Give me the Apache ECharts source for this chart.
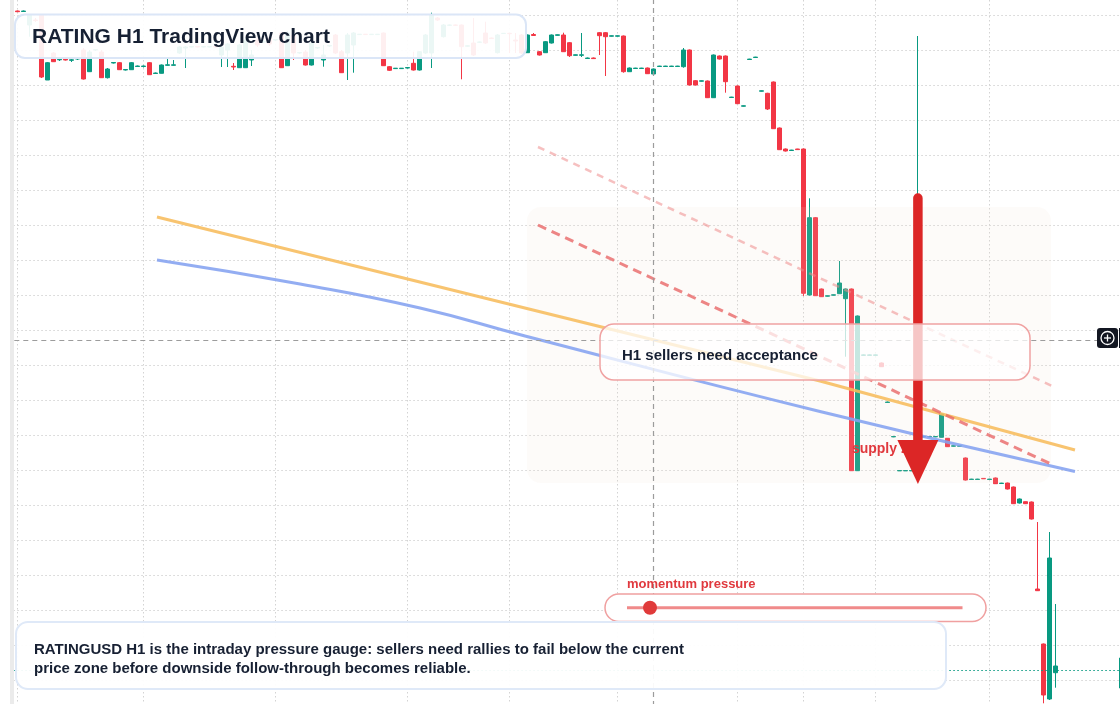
<!DOCTYPE html>
<html>
<head>
<meta charset="utf-8">
<title>RATING H1 TradingView chart</title>
<script src="https://cdn.jsdelivr.net/npm/echarts@6.0.0/dist/echarts.min.js"></script>
<style>
html,body{margin:0;padding:0;background:#fff;}
#main{width:1120px;height:704px;}
</style>
</head>
<body>
<div id="main"></div>
<script>
// H1 bars, [open, close, low, high]
// bar index 2..132: the range at the top
var rangeStart = 2;
var rangeBars = [
  [1.019,1.0183,1.018,1.0195],[1.0185,1.019,1.018,1.0195],[1.005,1.015,0.9933,1.016],[1.010,1.0095,1.008,1.012],
  [1.015,0.953,0.952,1.016],[0.950,0.9673,0.950,0.968],[0.977,0.9683,0.968,0.978],[0.9702,0.9707,0.969,0.972],
  [0.9707,0.970,0.9695,0.971],[0.9697,0.9702,0.968,0.972],[0.971,0.9714,0.970,0.973],[0.980,0.951,0.9505,0.982],
  [0.9583,0.978,0.958,0.980],[0.980,0.9804,0.979,0.981],[0.978,0.9523,0.952,0.980],[0.9523,0.961,0.9515,0.962],
  [0.967,0.9675,0.9665,0.968],[0.9673,0.9603,0.960,0.968],[0.960,0.9605,0.9595,0.961],[0.9603,0.9673,0.960,0.968],
  [0.9635,0.964,0.963,0.9645],[0.9635,0.964,0.9625,0.9645],[0.9673,0.9553,0.955,0.968],[0.9565,0.957,0.956,0.9575],
  [0.9567,0.965,0.9565,0.9655],[0.9647,0.9652,0.9645,0.972],[0.9647,0.9652,0.9645,0.970],[0.977,0.983,0.976,0.984],
  [0.982,0.983,0.962,0.984],[0.983,0.9835,0.9825,0.984],[0.9835,0.983,0.9825,0.984],[0.983,0.9835,0.9825,0.984],
  [0.983,0.9835,0.9825,0.984],[0.9835,0.983,0.9825,0.984],[0.975,0.983,0.963,0.984],[0.980,0.986,0.963,0.987],
  [0.9637,0.963,0.960,0.967],[0.9623,0.985,0.962,0.986],[0.9623,0.990,0.962,0.992],[0.970,0.975,0.964,0.980],
  [0.990,0.985,0.983,0.992],[0.988,0.9885,0.987,0.990],[0.992,0.986,0.984,0.994],[0.990,0.9905,0.989,0.991],
  [0.997,0.9623,0.962,0.998],[0.9643,0.997,0.964,0.999],[0.995,0.977,0.970,0.996],[0.977,0.9775,0.976,0.978],
  [0.978,0.965,0.9645,0.980],[0.965,0.987,0.9645,0.988],[0.982,0.9825,0.981,0.983],[0.970,0.975,0.9633,0.985],
  [0.984,0.9845,0.983,0.985],[0.995,0.977,0.976,0.996],[0.9783,0.9573,0.957,0.980],[0.977,0.995,0.950,0.997],
  [0.985,0.997,0.9573,0.998],[0.9954,0.9958,0.995,0.996],[0.9958,0.9954,0.995,0.996],[0.9954,0.9958,0.995,0.996],
  [0.9954,0.9958,0.995,0.996],[0.997,0.9643,0.964,0.9975],[0.9633,0.9597,0.959,0.964],[0.9614,0.9618,0.961,0.962],
  [0.9614,0.9618,0.961,0.962],[0.962,0.9624,0.9615,0.963],[0.9667,0.960,0.9595,0.9783],[0.960,0.9783,0.9595,0.979],
  [0.977,0.995,0.976,0.996],[0.977,1.015,0.962,1.0173],[1.012,1.010,1.009,1.013],[0.9933,1.005,0.9925,1.006],
  [1.0047,1.005,1.004,1.0055],[1.005,1.0047,1.004,1.0055],[1.005,0.9833,0.9507,1.0055],[0.9837,0.9843,0.983,0.985],
  [0.987,0.975,0.974,1.012],[0.9877,0.988,0.987,0.9885],[0.997,0.987,0.986,1.0083],[0.992,0.9915,0.991,0.9925],
  [0.9773,0.995,0.9765,0.996],[0.9965,0.9967,0.996,0.997],[0.9967,0.9963,0.977,0.997],[0.990,0.989,0.977,0.997],
  [0.995,0.977,0.976,0.996],[0.9773,0.995,0.977,0.9955],[0.9955,0.9945,0.994,0.997],[0.9783,0.975,0.9745,0.979],
  [0.9773,0.9883,0.977,0.989],[0.987,0.995,0.9865,0.9955],[0.9947,0.9952,0.9945,0.9955],[0.995,0.9783,0.978,0.9973],
  [0.9873,0.9743,0.973,0.988],[0.9747,0.9752,0.9745,0.9755],[0.9747,0.9752,0.973,0.997],[0.9715,0.972,0.971,0.9725],
  [0.972,0.9714,0.971,0.9725],[0.9973,0.9943,0.975,0.998],[0.9973,0.9933,0.954,0.998],[0.9938,0.9942,0.9935,0.9945],
  [0.9938,0.9942,0.9935,0.9945],[0.994,0.9583,0.9573,0.9945],[0.9583,0.962,0.958,0.9625],[0.9615,0.9619,0.961,0.9622],
  [0.9615,0.9619,0.961,0.9622],[0.962,0.9563,0.956,0.9625],[0.956,0.961,0.955,0.9615],[0.9635,0.9639,0.9632,0.9642],
  [0.9635,0.9639,0.9632,0.9642],[0.9635,0.9639,0.9632,0.9642],[0.9635,0.9639,0.9632,0.9642],[0.9633,0.980,0.9623,0.982],
  [0.980,0.945,0.9445,0.9805],[0.9493,0.945,0.9445,0.950],[0.9488,0.9492,0.9485,0.9495],[0.949,0.9323,0.932,0.9495],
  [0.9323,0.975,0.932,0.9755],[0.974,0.971,0.9705,0.9745],[0.974,0.9483,0.9373,0.9745],[0.9325,0.9329,0.9322,0.9332],
  [0.944,0.9263,0.926,0.9445],[0.9238,0.9242,0.9235,0.9245],[0.9705,0.9709,0.9702,0.9712],[0.9725,0.9729,0.9722,0.9732],
  [0.9388,0.9392,0.9385,0.9395],[0.9367,0.921,0.920,0.9372],[0.948,0.9013,0.901,0.9485],[0.902,0.8803,0.880,0.9025],
  [0.881,0.879,0.8785,0.8815],[0.8795,0.8799,0.8792,0.8802],[0.881,0.8804,0.880,0.8812]
];
// bar index 133..175: the breakdown
var dropStart = 133;
var dropBars = [
  [0.881,0.7367,0.734,0.8815],[0.735,0.8123,0.7345,0.8317],[0.8123,0.7343,0.734,0.813],[0.741,0.7333,0.733,0.7415],
  [0.7338,0.7342,0.7335,0.7345],[0.7348,0.7352,0.7345,0.7355],[0.7363,0.747,0.736,0.769],[0.7313,0.741,0.6733,0.7415],
  [0.741,0.5593,0.559,0.7415],[0.5593,0.714,0.559,0.7145],[0.6747,0.6751,0.6745,0.6755],[0.6747,0.6751,0.6745,0.6755],
  [0.6747,0.6751,0.6745,0.6755],[0.667,0.6633,0.663,0.6675],[0.6275,0.628,0.6272,0.6285],[0.5931,0.5935,0.5928,0.594],
  [0.5591,0.5595,0.559,0.560],[0.5591,0.5595,0.559,0.560],[0.5591,0.5595,0.559,0.560],[0.560,0.593,0.559,0.994],
  [0.5931,0.5935,0.5928,0.594],[0.5931,0.5935,0.5928,0.594],[0.5931,0.5935,0.5928,0.594],[0.5927,0.616,0.5925,0.6165],
  [0.5917,0.5833,0.583,0.592],[0.5838,0.5842,0.5835,0.5845],[0.5838,0.5842,0.5835,0.5845],[0.572,0.550,0.5495,0.5725],
  [0.5505,0.5509,0.5502,0.5512],[0.5505,0.5509,0.5502,0.5512],[0.5516,0.5512,0.551,0.5519],[0.5505,0.5509,0.5502,0.5512],
  [0.552,0.5463,0.546,0.5525],[0.5465,0.5469,0.5462,0.5472],[0.547,0.541,0.5405,0.5475],[0.543,0.5263,0.526,0.5435],
  [0.527,0.531,0.5265,0.5315],[0.5283,0.5263,0.526,0.5285],[0.528,0.511,0.5105,0.5285],[0.441,0.4393,0.439,0.508],
  [0.386,0.335,0.3267,0.3865],[0.331,0.472,0.330,0.498],[0.3573,0.364,0.3423,0.426]
];
// the bar cut off at the right edge
var edgeIndex = 186;
var edgeBar = [0.342,0.372,0.340,0.375];

var timeGridBars = [2, 23, 45, 67, 84, 102, 122, 133, 145, 164];
var crosshairBar = 108;
var crosshairPrice = 0.692;
var lastPrice = 0.3633;

// drawn lines, [bar, price]
var orangeLine = [[25.28, 0.813], [135.78, 0.649], [178.28, 0.580]];
var blueLine = [[25.28, 0.770], [49.12, 0.746], [69.12, 0.722], [86.62, 0.694], [135.78, 0.6185], [178.28, 0.5585]];
var upperTrend = [[88.78, 0.883], [174.45, 0.644]];
var lowerTrend = [[88.78, 0.805], [174.62, 0.565]];
var zoneBars = [86.95, 174.28];
var zonePrices = [0.823, 0.547];
var arrowBar = 152.1;
var arrowPrices = [0.8367, 0.590, 0.546];
var supplyLabel = [141.1, 0.582];

var barTimes = [];
var t0 = Date.UTC(2025, 5, 2, 0);
for (var i = 0; i <= edgeIndex; i++) {
    var d = new Date(t0 + i * 3600000);
    barTimes.push((d.getUTCMonth() + 1) + '/' + d.getUTCDate() + ' ' + d.getUTCHours() + ':00');
}
var bars = barTimes.map(function () { return ['-', '-', '-', '-']; });
rangeBars.forEach(function (b, k) { bars[rangeStart + k] = b; });
dropBars.forEach(function (b, k) { bars[dropStart + k] = b; });
bars[edgeIndex] = edgeBar;

var gridDots = { color: '#d3d3d3', type: [1.5, 2.5], width: 1 };
var crossStyle = { color: '#9c9c9c', type: [5, 4], width: 1.2 };
var FONT = '"Liberation Sans", Arial, sans-serif';

var myChart = echarts.init(document.getElementById('main'));
var option = {
    animation: false,
    backgroundColor: '#ffffff',
    grid: {
        left: 5.3, top: -20, width: 1116, height: 735,
        outerBoundsMode: 'none', containLabel: false
    },
    xAxis: [
        {
            type: 'category',
            data: barTimes,
            boundaryGap: false,
            axisLine: { show: false },
            axisTick: { show: false },
            axisLabel: { show: false },
            splitLine: {
                show: true,
                interval: function (idx) { return timeGridBars.indexOf(idx) >= 0; },
                lineStyle: gridDots
            }
        },
        {
            type: 'value', min: 0, max: edgeIndex, show: false,
            splitLine: { show: false }
        }
    ],
    yAxis: {
        type: 'value',
        min: 0.315, max: 1.05, interval: 0.035,
        axisLine: { show: false },
        axisTick: { show: false },
        axisLabel: { show: false },
        splitLine: { show: true, lineStyle: gridDots }
    },
    series: [
        {
            type: 'candlestick',
            data: bars,
            barWidth: 4,
            z: 2,
            silent: true,
            itemStyle: {
                color: '#089981', color0: '#f23645',
                borderColor: '#089981', borderColor0: '#f23645',
                borderWidth: 1
            },
            markLine: {
                silent: true,
                symbol: ['none', 'none'],
                label: { show: false },
                animation: false,
                data: [
                    { xAxis: barTimes[crosshairBar], lineStyle: crossStyle },
                    { yAxis: crosshairPrice, lineStyle: crossStyle },
                    { yAxis: lastPrice, lineStyle: { color: '#089981', type: [1.5, 2.5], width: 1 } }
                ]
            }
        },
        {
            type: 'line', xAxisIndex: 1, data: orangeLine, symbol: 'none', silent: true, z: 4,
            lineStyle: { color: 'rgba(247,188,92,0.88)', width: 3 }
        },
        {
            type: 'line', xAxisIndex: 1, data: blueLine, symbol: 'none', silent: true, z: 4, smooth: 0.5,
            lineStyle: { color: 'rgba(132,162,240,0.88)', width: 3 }
        },
        {
            type: 'line', xAxisIndex: 1, data: upperTrend, symbol: 'none', silent: true, z: 4,
            lineStyle: { color: 'rgba(238,140,140,0.55)', width: 2.5, type: [7, 6] }
        },
        {
            type: 'line', xAxisIndex: 1, data: lowerTrend, symbol: 'none', silent: true, z: 4,
            lineStyle: { color: 'rgba(232,104,104,0.8)', width: 3, type: [9, 6] }
        }
    ]
};
myChart.setOption(option, true);

function px(p) { return myChart.convertToPixel({ seriesIndex: 1 }, p); }
var zA = px([zoneBars[0], zonePrices[0]]);
var zB = px([zoneBars[1], zonePrices[1]]);
var aTop = px([arrowBar, arrowPrices[0]]);
var aBase = px([arrowBar, arrowPrices[1]]);
var aTip = px([arrowBar, arrowPrices[2]]);
var sLab = px(supplyLabel);

function box(x, y, w, h, r, fill, stroke, lw) {
    return { type: 'rect', z: 30, shape: { x: x, y: y, width: w, height: h, r: r },
        style: { fill: fill, stroke: stroke, lineWidth: lw } };
}
function label(x, y, text, size, color) {
    return { type: 'text', z: 31, style: { x: x, y: y, text: text, fill: color,
        font: 'bold ' + size + 'px ' + FONT, textAlign: 'left', textVerticalAlign: 'middle' } };
}

myChart.setOption({
    graphic: { elements: [
        { type: 'rect', z: 40, shape: { x: 0, y: 0, width: 10, height: 704 }, style: { fill: '#ffffff' } },
        { type: 'rect', z: 40, shape: { x: 10, y: 0, width: 4, height: 704 }, style: { fill: '#ebebeb' } },
        // supply zone
        { type: 'rect', z: 3, shape: { x: zA[0], y: zA[1], width: zB[0] - zA[0], height: zB[1] - zA[1], r: 14 },
          style: { fill: 'rgba(242,222,202,0.12)' } },
        { type: 'text', z: 5, style: { x: sLab[0], y: sLab[1] + 1, text: 'supply zone', fill: '#e0393e',
          font: 'bold 14px ' + FONT, textAlign: 'left', textVerticalAlign: 'middle' } },
        // arrow
        { type: 'rect', z: 6, shape: { x: aTop[0] - 4.75, y: aTop[1], width: 9.5, height: aBase[1] - aTop[1] + 4, r: [4.75, 4.75, 0, 0] },
          style: { fill: '#dc2626' } },
        { type: 'polygon', z: 6, shape: { points: [[aBase[0] - 20.5, aBase[1]], [aBase[0] + 20.5, aBase[1]], [aTip[0], aTip[1]]] },
          style: { fill: '#dc2626' } },
        // callout
        box(600, 324, 430, 56, 14, 'rgba(255,255,255,0.74)', '#f0a2a2', 1.5),
        label(622, 355.5, 'H1 sellers need acceptance', 15, '#172033'),
        // title
        box(15, 14.5, 511, 43.5, 10, 'rgba(255,255,255,0.92)', '#dbe6f7', 2),
        label(32, 37, 'RATING H1 TradingView chart', 21, '#162033'),
        // momentum slider
        label(627, 584, 'momentum pressure', 13, '#e0393e'),
        box(605, 594, 381, 27.5, 13.75, '#ffffff', '#f0a0a0', 1.5),
        { type: 'line', z: 31, shape: { x1: 627, y1: 607.7, x2: 962.5, y2: 607.7 },
          style: { stroke: '#f08a8a', lineWidth: 3 } },
        { type: 'circle', z: 32, shape: { cx: 650, cy: 607.7, r: 7 }, style: { fill: '#e03a3a' } },
        // bottom note
        box(16, 622, 930, 67, 12, 'rgba(255,255,255,0.94)', '#dfe9f8', 2),
        label(34, 649.5, 'RATINGUSD H1 is the intraday pressure gauge: sellers need rallies to fail below the current', 15, '#172033'),
        label(34, 669, 'price zone before downside follow-through becomes reliable.', 15, '#172033'),
        // crosshair button
        { type: 'rect', z: 40, shape: { x: 1097, y: 328, width: 21, height: 20, r: 3 }, style: { fill: '#131722' } },
        { type: 'rect', z: 40, shape: { x: 1119, y: 328, width: 1, height: 20 }, style: { fill: '#131722' } },
        { type: 'circle', z: 41, shape: { cx: 1107.5, cy: 338, r: 6.5 }, style: { fill: 'none', stroke: '#ffffff', lineWidth: 1.3 } },
        { type: 'line', z: 41, shape: { x1: 1104, y1: 338, x2: 1111, y2: 338 }, style: { stroke: '#ffffff', lineWidth: 1.3 } },
        { type: 'line', z: 41, shape: { x1: 1107.5, y1: 334.5, x2: 1107.5, y2: 341.5 }, style: { stroke: '#ffffff', lineWidth: 1.3 } }
    ] }
});
</script>
</body>
</html>
